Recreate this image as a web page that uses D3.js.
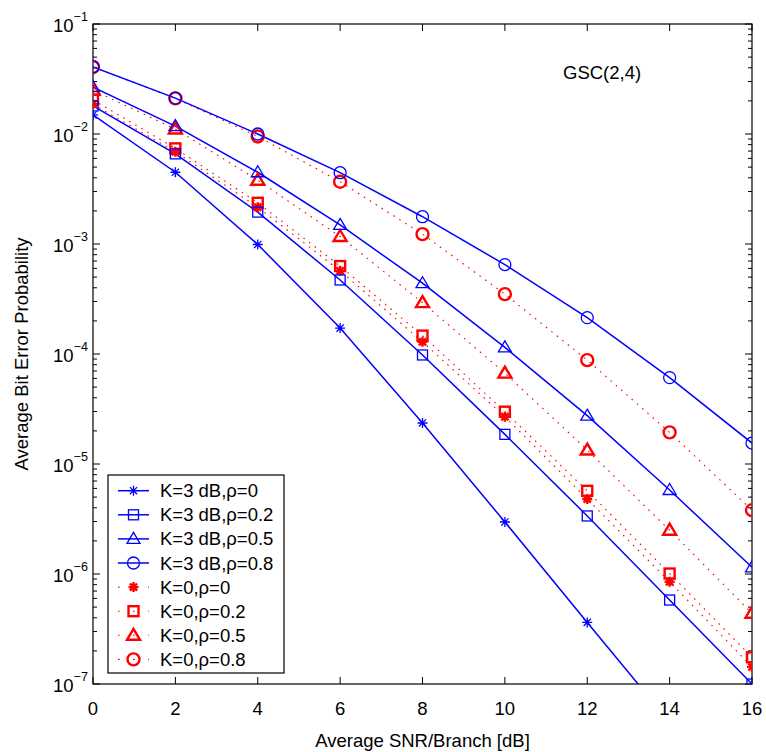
<!DOCTYPE html>
<html>
<head>
<meta charset="utf-8">
<script src="https://cdn.jsdelivr.net/npm/d3@7"></script>
<style>
  html, body { margin: 0; padding: 0; background: #fff; }
  svg { display: block; }
  text { font-family: "Liberation Sans", Arial, Helvetica, sans-serif; fill: #000; }
</style>
</head>
<body>
<svg id="chart" width="766" height="752"></svg>
<script>
// ---------------- data ----------------
const snr = [0, 2, 4, 6, 8, 10, 12, 14, 16];
const xTicks = [0, 2, 4, 6, 8, 10, 12, 14, 16];
const yDecades = [-1, -2, -3, -4, -5, -6, -7];

const k3rho0  = [0.0149, 0.00449, 0.00099, 1.72e-4, 2.36e-5, 2.97e-6, 3.63e-7, 4.5e-8, 5.0e-9];
const k3rho02 = [0.0180, 0.0066, 0.00195, 4.71e-4, 9.8e-5, 1.86e-5, 3.37e-6, 5.8e-7, 1.0e-7];
const k3rho05 = [0.0267, 0.0118, 0.00449, 0.00149, 4.4e-4, 1.15e-4, 2.75e-5, 5.8e-6, 1.15e-6];
const k3rho08 = [0.0407, 0.0212, 0.0100, 0.00445, 0.00177, 6.5e-4, 2.14e-4, 6.1e-5, 1.55e-5];

const k0rho0  = [0.0187, 0.0069, 0.00216, 5.7e-4, 1.29e-4, 2.69e-5, 4.8e-6, 8.5e-7, 1.43e-7];
const k0rho02 = [0.0204, 0.0074, 0.00237, 6.3e-4, 1.47e-4, 2.99e-5, 5.7e-6, 1.01e-6, 1.75e-7];
const k0rho05 = [0.0250, 0.0111, 0.0038, 0.00117, 2.93e-4, 6.7e-5, 1.34e-5, 2.5e-6, 4.4e-7];
const k0rho08 = [0.0407, 0.0211, 0.0095, 0.00368, 0.00123, 3.5e-4, 8.8e-5, 1.94e-5, 3.8e-6];

const seriesNames = ["K=3 dB,ρ=0", "K=3 dB,ρ=0.2", "K=3 dB,ρ=0.5", "K=3 dB,ρ=0.8",
                     "K=0,ρ=0", "K=0,ρ=0.2", "K=0,ρ=0.5", "K=0,ρ=0.8"];
const seriesValues = [k3rho0, k3rho02, k3rho05, k3rho08, k0rho0, k0rho02, k0rho05, k0rho08];
const seriesMarkers = ["star", "square", "triangle", "circle", "star", "square", "triangle", "circle"];
const seriesGroup = ["k3", "k3", "k3", "k3", "k0", "k0", "k0", "k0"];

const titleText = "GSC(2,4)";
const xLabel = "Average SNR/Branch [dB]";
const yLabel = "Average Bit Error Probability";

// ---------------- layout ----------------
const L = 93, R = 752, T = 24, B = 684;
const svg = d3.select("#chart");
const x = d3.scaleLinear().domain([0, 16]).range([L, R]);
const y = d3.scaleLog().domain([1e-7, 1e-1]).range([B, T]);

const styles = {
  k3: { color: "#0000ff", width: 1.5, dash: null, mwidth: 1.3 },
  k0: { color: "#ff0000", width: 1.1, dash: "1.6,5.4", mwidth: 2.4 }
};

svg.append("defs").append("clipPath").attr("id", "plotclip")
  .append("rect").attr("x", L).attr("y", T).attr("width", R - L).attr("height", B - T);

// ---------------- axes ----------------
const axG = svg.append("g");
const majorLen = 7, minorLen = 4;
// x ticks bottom & top (inward)
xTicks.forEach(v => {
  axG.append("line").attr("x1", x(v)).attr("x2", x(v)).attr("y1", B).attr("y2", B - majorLen)
    .attr("stroke", "#000").attr("stroke-width", 1);
  axG.append("line").attr("x1", x(v)).attr("x2", x(v)).attr("y1", T).attr("y2", T + majorLen)
    .attr("stroke", "#000").attr("stroke-width", 1);
  axG.append("text").attr("x", x(v)).attr("y", 715).attr("text-anchor", "middle")
    .style("font-size", "18.5px").text(v);
});
// y ticks
const yMinor = [];
yDecades.forEach(d => {
  if (d > -1) return;
  for (let m = 2; m <= 9; m++) {
    const v = m * Math.pow(10, d);
    if (v < 1e-1) yMinor.push(v);
  }
});
yMinor.forEach(v => {
  axG.append("line").attr("x1", L).attr("x2", L + minorLen).attr("y1", y(v)).attr("y2", y(v))
    .attr("stroke", "#000").attr("stroke-width", 1);
  axG.append("line").attr("x1", R).attr("x2", R - minorLen).attr("y1", y(v)).attr("y2", y(v))
    .attr("stroke", "#000").attr("stroke-width", 1);
});
yDecades.forEach(d => {
  const v = Math.pow(10, d);
  axG.append("line").attr("x1", L).attr("x2", L + majorLen).attr("y1", y(v)).attr("y2", y(v))
    .attr("stroke", "#000").attr("stroke-width", 1);
  axG.append("line").attr("x1", R).attr("x2", R - majorLen).attr("y1", y(v)).attr("y2", y(v))
    .attr("stroke", "#000").attr("stroke-width", 1);
  const t = axG.append("text").attr("x", 53).attr("y", y(v) + 8).style("font-size", "18.5px");
  t.append("tspan").text("10");
  t.append("tspan").attr("dy", -11).style("font-size", "12.5px").text("\u2212" + Math.abs(d));
});
// box
axG.append("rect").attr("x", L).attr("y", T).attr("width", R - L).attr("height", B - T)
  .attr("fill", "none").attr("stroke", "#000").attr("stroke-width", 1.2);

// labels
svg.append("text").attr("x", (L + R) / 2).attr("y", 747).attr("text-anchor", "middle")
  .style("font-size", "18.5px").text(xLabel);
svg.append("text").attr("transform", `translate(28,${(T + B) / 2}) rotate(-90)`)
  .attr("text-anchor", "middle").style("font-size", "18.5px").text(yLabel);
svg.append("text").attr("x", 563).attr("y", 79).style("font-size", "18.5px").text(titleText);

// ---------------- markers ----------------
function drawMarker(g, type, cx, cy, color, sw) {
  if (type === "circle") {
    g.append("circle").attr("cx", cx).attr("cy", cy).attr("r", 6)
      .attr("fill", "none").attr("stroke", color).attr("stroke-width", sw);
  } else if (type === "square") {
    g.append("rect").attr("x", cx - 5).attr("y", cy - 5).attr("width", 10).attr("height", 10)
      .attr("fill", "none").attr("stroke", color).attr("stroke-width", sw);
  } else if (type === "triangle") {
    const h = 6.5;
    g.append("path").attr("d", `M${cx},${cy - h} L${cx + 6.5},${cy + 4.5} L${cx - 6.5},${cy + 4.5} Z`)
      .attr("fill", "none").attr("stroke", color).attr("stroke-width", sw).attr("stroke-linejoin", "miter");
  } else if (type === "star") {
    const r = 5, d = 3.6;
    const p = `M${cx - r},${cy} L${cx + r},${cy} M${cx},${cy - r} L${cx},${cy + r} ` +
              `M${cx - d},${cy - d} L${cx + d},${cy + d} M${cx - d},${cy + d} L${cx + d},${cy - d}`;
    g.append("path").attr("d", p).attr("fill", "none").attr("stroke", color).attr("stroke-width", sw);
  }
}

// ---------------- series ----------------
const plotG = svg.append("g").attr("clip-path", "url(#plotclip)");
const line = d3.line().x(d => x(d[0])).y(d => y(d[1]));

// draw red (K=0) first then blue on top? Reference shows blue lines over red dots; draw red first.
const order = [4, 5, 6, 7, 0, 1, 2, 3];
order.forEach(i => {
  const st = styles[seriesGroup[i]];
  const pts = snr.map((s, j) => [s, seriesValues[i][j]]);
  const path = plotG.append("path").attr("d", line(pts)).attr("fill", "none")
    .attr("stroke", st.color).attr("stroke-width", st.width);
  if (st.dash) path.attr("stroke-dasharray", st.dash);
});
order.forEach(i => {
  const st = styles[seriesGroup[i]];
  snr.forEach((s, j) => {
    const v = seriesValues[i][j];
    if (v >= 1e-7 * 0.98 && v <= 1e-1) drawMarker(plotG, seriesMarkers[i], x(s), y(v), st.color, st.mwidth);
  });
});

// ---------------- legend ----------------
const lg = svg.append("g");
lg.append("rect").attr("x", 108).attr("y", 475).attr("width", 176).attr("height", 198)
  .attr("fill", "#fff").attr("stroke", "#000").attr("stroke-width", 1.2);
seriesNames.forEach((name, i) => {
  const st = styles[seriesGroup[i]];
  const cy = 490.7 + i * 24.1;
  const ln = lg.append("line").attr("x1", 118).attr("x2", 149).attr("y1", cy).attr("y2", cy)
    .attr("stroke", st.color).attr("stroke-width", st.width);
  if (st.dash) ln.attr("stroke-dasharray", "1.6,13.5");
  drawMarker(lg, seriesMarkers[i], 133.5, cy, st.color, st.mwidth);
  lg.append("text").attr("x", 160).attr("y", cy + 6.5).style("font-size", "18.5px").text(name);
});
</script>
</body>
</html>
